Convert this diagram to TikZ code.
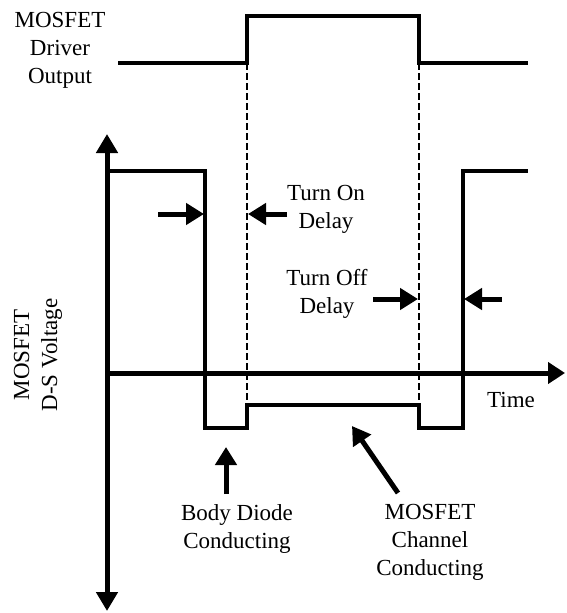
\documentclass[tikz,border=0pt]{standalone}
\usepackage{fontspec}
\setmainfont{Liberation Serif}
\usetikzlibrary{arrows.meta,positioning}
\tikzstyle{wave} = [line width=3.5pt, line join=miter]
\tikzstyle{axis} = [line width=5pt]
\tikzstyle{guide} = [line width=2.5pt, dash pattern=on 7pt off 3pt]
\tikzstyle{arpt} = [style={-{Triangle[length=18pt,width=21pt]},line width=5pt}]
\tikzstyle{lbl} = [font=\fontsize{23}{28}\selectfont, align=center, inner sep=0pt]

\begin{document}
\begin{tikzpicture}[x=1pt, y=-1pt]
	\useasboundingbox (0,0) rectangle (566,613);
	% driver output
	\coordinate (d0) at (118,63);
	\coordinate (d1) at (247,63);
	\coordinate (d2) at (247,16);
	\coordinate (d3) at (419,16);
	\coordinate (d4) at (419,63);
	\coordinate (d5) at (528,63);
	\draw[wave] (d0) -- (d1) -- (d2) -- (d3) -- (d4) -- (d5);
	% axes
	\coordinate (o) at (107,373);
	\coordinate (ytop) at (107,134);
	\coordinate (ybot) at (107,611);
	\coordinate (xend) at (565,373);
	\draw[axis, {Triangle[length=19pt,width=21pt]}-{Triangle[length=19pt,width=21pt]}] (ytop) -- (ybot);
	\draw[axis, -{Triangle[length=17pt,width=21pt]}] (o) -- (xend);
	% d-s voltage
	\coordinate (v0) at (107,171);
	\coordinate (v1) at (205,171);
	\coordinate (v2) at (205,428);
	\coordinate (v3) at (247,428);
	\coordinate (v4) at (247,405);
	\coordinate (v5) at (419,405);
	\coordinate (v6) at (419,428);
	\coordinate (v7) at (463,428);
	\coordinate (v8) at (463,171);
	\coordinate (v9) at (528,171);
	\draw[wave] (v0) -- (v1) -- (v2) -- (v3) -- (v4) -- (v5) -- (v6) -- (v7) -- (v8) -- (v9);
	\draw[guide] (d1) -- (v4);
	\draw[guide] (d4) -- (v5);
	% labels
	\node[lbl] (drv) at (60,50) {MOSFET\\Driver\\Output};
	\node[lbl, rotate=90] (vds) at (38,355) {MOSFET\\D-S Voltage};
	\node[lbl] (time) at (511,400) {Time};
	\node[lbl] (ton) at (326,209) {Turn On\\Delay};
	\node[lbl] (toff) at (327,294) {Turn Off\\Delay};
	\node[lbl] (body) at (237,529) {Body Diode\\Conducting};
	\node[lbl] (chan) at (430,542) {MOSFET\\Channel\\Conducting};
	% markers
	\coordinate (a1) at (158,214);
	\coordinate (a1t) at (204,214);
	\coordinate (a2) at (287,214);
	\coordinate (a2t) at (248,214);
	\coordinate (a3) at (373,299);
	\coordinate (a3t) at (418,299);
	\coordinate (a4) at (502,299);
	\coordinate (a4t) at (464,299);
	\coordinate (a5) at (226,494);
	\coordinate (a5t) at (226,447);
	\coordinate (a6) at (398,493);
	\coordinate (a6t) at (352,426);
	\draw[arpt] (a1) -- (a1t);
	\draw[arpt] (a2) -- (a2t);
	\draw[arpt] (a3) -- (a3t);
	\draw[arpt] (a4) -- (a4t);
	\draw[arpt] (a5) -- (a5t);
	\draw[arpt] (a6) -- (a6t);
\end{tikzpicture}
\end{document}
